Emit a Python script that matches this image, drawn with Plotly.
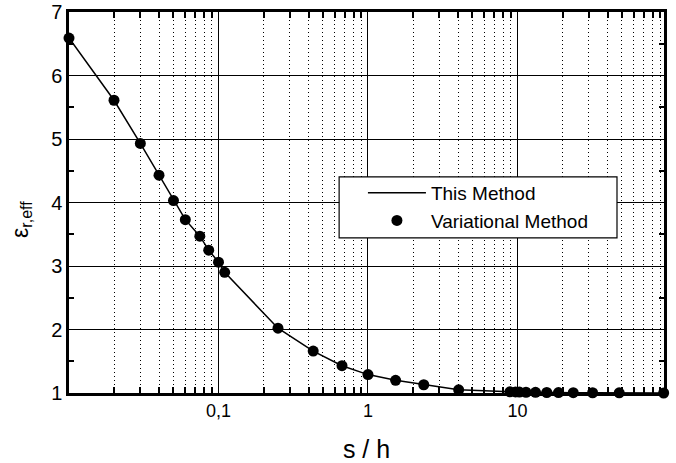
import plotly.graph_objects as go

# Data
s_h = [0.01, 0.02, 0.03, 0.04, 0.05, 0.06, 0.075, 0.086, 0.1, 0.11, 0.25, 0.43,
       0.67, 1.0, 1.53, 2.36, 4.04, 8.9, 9.7, 10.3, 11.4, 13.2, 15.7, 18.8, 23.6,
       31.8, 47.9, 95.0]
eps_var = [6.59, 5.61, 4.93, 4.43, 4.03, 3.73, 3.47, 3.25, 3.06, 2.90, 2.02, 1.66,
           1.43, 1.29, 1.20, 1.13, 1.05, 1.018, 1.016, 1.014, 1.012, 1.010, 1.008,
           1.006, 1.005, 1.004, 1.002, 1.0]
eps_this = list(eps_var)

x_tickvals = [0.1, 1, 10]
x_ticktext = ["0,1", "1", "10"]
x_minor = [m * 10.0 ** e for e in (-2, -1, 0, 1) for m in range(2, 10)]

FONT = "Liberation Sans, Arial, Helvetica, sans-serif"

fig = go.Figure()
fig.add_trace(go.Scatter(
    x=s_h, y=eps_this, mode="lines", name="This Method",
    line=dict(color="black", width=1.5),
    cliponaxis=False,
))
fig.add_trace(go.Scatter(
    x=s_h, y=eps_var, mode="markers", name="Variational Method",
    marker=dict(color="black", size=11),
    cliponaxis=False,
))

fig.update_xaxes(
    type="log", range=[-2, 1.98], automargin=False,
    tickvals=x_tickvals, ticktext=x_ticktext,
    ticks="",
    showgrid=True, gridcolor="black", gridwidth=1.4,
    showline=True, linecolor="black", linewidth=2.5, mirror="ticks",
    zeroline=False,
    tickfont=dict(family=FONT, size=18, color="black"),
    title=dict(text="s / h", font=dict(family=FONT, size=25, color="black"), standoff=24),
    minor=dict(tickvals=x_minor, ticks="inside", ticklen=6, tickcolor="black", tickwidth=1.5,
               showgrid=True, gridcolor="black", griddash="1px,3px", gridwidth=1.2),
)
fig.update_yaxes(
    range=[1, 7], dtick=1, automargin=False,
    ticks="",
    showgrid=True, gridcolor="black", gridwidth=1.4,
    showline=True, linecolor="black", linewidth=2.5, mirror="ticks",
    zeroline=False,
    tickfont=dict(family=FONT, size=20, color="black"),
    minor=dict(dtick=0.5, ticks="inside", ticklen=5, tickcolor="black", tickwidth=1.5, showgrid=False),
)

# y-axis title (placed as a rotated annotation to match the reference position)
fig.add_annotation(
    text="ε<sub>r,eff</sub>", xref="paper", yref="paper",
    x=-0.081, y=0.456, xanchor="center", yanchor="middle",
    textangle=-90, showarrow=False,
    font=dict(family=FONT, size=23, color="black"),
)

# legend background box
fig.add_shape(type="rect", xref="paper", yref="paper",
              x0=0.454, x1=0.921, y0=0.407, y1=0.567,
              fillcolor="white", line=dict(color="black", width=1.2), layer="above")

fig.update_layout(
    width=676, height=463,
    margin=dict(l=69, r=12, t=12, b=70),
    plot_bgcolor="white", paper_bgcolor="white",
    font=dict(family=FONT, color="black"),
    legend=dict(x=0.494, y=0.575, xanchor="left", yanchor="top",
                bgcolor="rgba(0,0,0,0)", borderwidth=0,
                font=dict(family=FONT, size=19, color="black"),
                itemwidth=58, tracegroupgap=0),
    showlegend=True,
)

fig.write_html("out.html")
